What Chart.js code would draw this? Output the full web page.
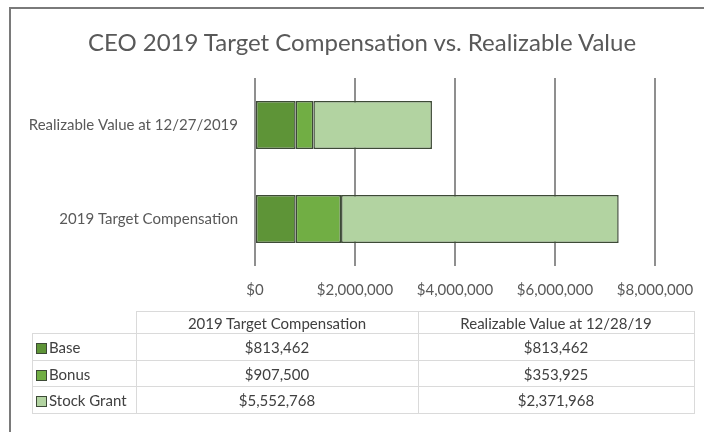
<!DOCTYPE html>
<html>
<head>
<meta charset="utf-8">
<script src="https://cdn.jsdelivr.net/npm/chart.js@4"></script>
<style>
  html, body { margin: 0; padding: 0; background: #fff; }
  #wrap { position: relative; width: 704px; height: 432px; overflow: hidden; font-family: Lato, sans-serif; }
  #frame { position: absolute; left: 9px; top: 7px; width: 720px; height: 460px;
           border-left: 2px solid #7a7a7a; border-top: 2px solid #7a7a7a; }
  #chart { position: absolute; left: 0; top: 0; }
  #title { position: absolute; left: 0; top: 27px; width: 724px; text-align: center;
           font-size: 24px; line-height: 29px; color: #595959; white-space: nowrap; }
  #tbl { position: absolute; left: 32px; top: 311px; border-collapse: collapse; color: #404040; font-size: 15px; }
  #tbl td { border: 1px solid #dadada; text-align: center; padding: 0; white-space: nowrap; }
  #tbl td.lab { text-align: left; padding-left: 3px; }
  #tbl td.blank { border: none; border-bottom: 1px solid #dadada; }
  .sw { display: inline-block; width: 9px; height: 9px; border: 1px solid #3d4a36; margin-right: 2px; vertical-align: -1px; }
</style>
</head>
<body>
<div id="wrap">
  <div id="frame"></div>
  <canvas id="chart" width="704" height="432"></canvas>
  <div id="title"></div>
  <table id="tbl"></table>
</div>
<script>
// Chart data
const chartTitle = 'CEO 2019 Target Compensation vs. Realizable Value';
const categories = ['Realizable Value at 12/27/2019', '2019 Target Compensation'];
const tableColumns = ['2019 Target Compensation', 'Realizable Value at 12/28/19'];
const seriesNames = ['Base', 'Bonus', 'Stock Grant'];
const baseValues = [813462, 813462];     // realizable, target
const bonusValues = [353925, 907500];
const stockValues = [2371968, 5552768];
const xTicks = [0, 2000000, 4000000, 6000000, 8000000];

const colors = ['#5e9437', '#71ae44', '#b2d3a1'];
const edge = '#3d4a36';

const money = (v) => '$' + v.toLocaleString('en-US');

document.getElementById('title').textContent = chartTitle;

const ctx = document.getElementById('chart').getContext('2d');
new Chart(ctx, {
    type: 'bar',
    data: {
        labels: categories,
        datasets: [baseValues, bonusValues, stockValues].map((vals, i) => ({
            label: seriesNames[i],
            data: vals,
            backgroundColor: colors[i],
            borderColor: edge,
            borderWidth: 1.5,
            borderSkipped: false,
            barPercentage: 0.51,
            categoryPercentage: 1
        }))
    },
    options: {
        indexAxis: 'y',
        responsive: false,
        animation: false,
        layout: { padding: { left: 0, right: 49, top: 78, bottom: 0 } },
        plugins: {
            legend: { display: false },
            tooltip: { enabled: false },
            title: { display: false }
        },
        scales: {
            x: {
                stacked: true,
                min: 0,
                max: 8000000,
                afterBuildTicks: (scale) => { scale.ticks = xTicks.map(v => ({ value: v })); },
                afterFit: (scale) => {
                    scale.height = 166;
                    // let the layout padding decide the right edge, not the last label
                    scale.paddingLeft = 0;
                    scale.paddingRight = 0;
                },
                grid: { color: '#8f8f8f', lineWidth: 2, drawTicks: false },
                border: { display: false },
                ticks: {
                    padding: 15,
                    color: '#595959',
                    font: { family: 'Lato', size: 15 },
                    callback: (v) => money(v)
                }
            },
            y: {
                stacked: true,
                afterFit: (scale) => { scale.width = 255; },
                grid: { display: false },
                border: { display: false },
                ticks: {
                    padding: 9,
                    color: '#595959',
                    font: { family: 'Lato', size: 15 }
                }
            }
        }
    }
});

// Data table below the chart
const tbl = document.getElementById('tbl');
const rowH = [22, 27, 26, 27];
let html = `<tr style="height:${rowH[0]}px"><td class="blank" style="width:103px"></td>` +
    tableColumns.map((c, i) => `<td style="width:${i === 0 ? 281 : 275}px">${c}</td>`).join('') + '</tr>';
[baseValues, bonusValues, stockValues].forEach((vals, i) => {
    html += `<tr style="height:${rowH[i + 1]}px"><td class="lab"><span class="sw" style="background:${colors[i]}"></span>${seriesNames[i]}</td>` +
        `<td>${money(vals[1])}</td><td>${money(vals[0])}</td></tr>`;
});
tbl.innerHTML = html;
</script>
</body>
</html>
